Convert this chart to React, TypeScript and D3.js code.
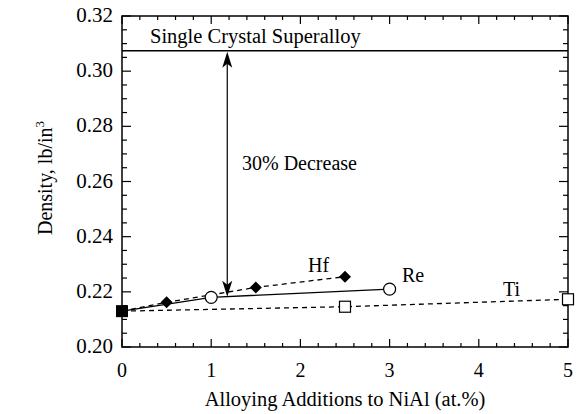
import React from "react";
import * as d3 from "d3";

const hfX = [0, 0.5, 1.5, 2.5];
const hfY = [0.213, 0.2162, 0.2216, 0.2255];
const reX = [0, 1, 3];
const reY = [0.213, 0.218, 0.221];
const tiX = [0, 2.5, 5];
const tiY = [0.213, 0.2146, 0.2173];
const baseX = [0];
const baseY = [0.213];
const superalloyY = 0.3074;
const arrowX = 1.18;
const arrowBottom = 0.2182;
const xTicks = [0, 1, 2, 3, 4, 5];
const yTicks = [0.2, 0.22, 0.24, 0.26, 0.28, 0.3, 0.32];

const W = 580, H = 414;
const L = 122, R = 568, T = 16, B = 347;
const FONT = "Liberation Serif";
const ts = { fontFamily: FONT };

export default function App() {
  const x = d3.scaleLinear().domain([0, 5]).range([L, R]);
  const y = d3.scaleLinear().domain([0.2, 0.32]).range([B, T]);
  const line = (xs: number[], ys: number[]) =>
    d3.line<number>().x((_, i) => x(xs[i])).y((_, i) => y(ys[i]))(xs.map((_, i) => i)) || "";

  const xMinor = d3.range(0, 5.0001, 0.2).map((v) => +v.toFixed(2));
  const yMinor = d3.range(0.2, 0.32001, 0.005).map((v) => +v.toFixed(3));
  const isMajorX = (v: number) => Math.abs(v - Math.round(v)) < 1e-6;
  const isMajorY = (v: number) => Math.abs(v * 50 - Math.round(v * 50)) < 1e-6;

  const ax = x(arrowX);
  const yTop = y(superalloyY) + 1;
  const yBot = y(arrowBottom);
  const ah = 16, aw = 5;

  return (
    <svg width={W} height={H} style={{ position: "absolute", left: 0, top: 0, background: "#fff", fontFamily: FONT }}>
      <style>{`text { font-family: 'Liberation Serif', serif; }`}</style>
      <rect x={0} y={0} width={W} height={H} fill="#fff" />
      {/* ticks */}
      <g stroke="#000" strokeWidth={1.2}>
        {xMinor.map((v, i) => {
          const len = isMajorX(v) ? 8 : 4;
          return (
            <g key={"xt" + i}>
              <line x1={x(v)} x2={x(v)} y1={B} y2={B - len} />
              <line x1={x(v)} x2={x(v)} y1={T} y2={T + len} />
            </g>
          );
        })}
        {yMinor.map((v, i) => {
          const len = isMajorY(v) ? 9 : 5;
          return (
            <g key={"yt" + i}>
              <line x1={L} x2={L + len} y1={y(v)} y2={y(v)} />
              <line x1={R} x2={R - len} y1={y(v)} y2={y(v)} />
            </g>
          );
        })}
      </g>
      <rect x={L} y={T} width={R - L} height={B - T} fill="none" stroke="#000" strokeWidth={1.5} />

      {/* tick labels */}
      {xTicks.map((v) => (
        <text key={"xl" + v} x={x(v)} y={377} textAnchor="middle" fontSize={20} style={ts}>{v}</text>
      ))}
      {yTicks.map((v) => (
        <text key={"yl" + v} x={113} y={y(v) + 6} textAnchor="end" fontSize={21} style={ts}>{v.toFixed(2)}</text>
      ))}

      {/* axis titles */}
      <text x={(L + R) / 2} y={406} textAnchor="middle" fontSize={20.5} style={ts}>Alloying Additions to NiAl (at.%)</text>
      <text transform="translate(52, 178) rotate(-90)" textAnchor="middle" fontSize={20} style={ts}>
        Density, lb/in<tspan dy={-8} fontSize={13}>3</tspan>
      </text>

      {/* superalloy line */}
      <line x1={L} x2={R} y1={y(superalloyY)} y2={y(superalloyY)} stroke="#000" strokeWidth={1.5} />
      <text x={150} y={43} fontSize={20.5} style={ts}>Single Crystal Superalloy</text>

      {/* arrow */}
      <line x1={ax} x2={ax} y1={yTop + 8} y2={yBot - 8} stroke="#000" strokeWidth={1.2} />
      <path d={`M${ax},${yTop} L${ax - aw},${yTop + ah} L${ax},${yTop + ah - 4} L${ax + aw},${yTop + ah} Z`} fill="#000" />
      <path d={`M${ax},${yBot} L${ax - aw},${yBot - ah} L${ax},${yBot - ah + 4} L${ax + aw},${yBot - ah} Z`} fill="#000" />
      <text x={242} y={170} fontSize={20} style={ts}>30% Decrease</text>

      {/* series lines */}
      <path d={line(tiX, tiY)} fill="none" stroke="#000" strokeWidth={1.3} strokeDasharray="5,4" />
      <path d={line(hfX, hfY)} fill="none" stroke="#000" strokeWidth={1.3} strokeDasharray="5,4" />
      <path d={line(reX, reY)} fill="none" stroke="#000" strokeWidth={1.4} />

      {/* markers */}
      {tiX.slice(1).map((v, i) => (
        <rect key={"ti" + i} x={x(v) - 5.5} y={y(tiY[i + 1]) - 5.5} width={11} height={11} fill="#fff" stroke="#000" strokeWidth={1.2} />
      ))}
      {reX.slice(1).map((v, i) => (
        <circle key={"re" + i} cx={x(v)} cy={y(reY[i + 1])} r={6} fill="#fff" stroke="#000" strokeWidth={1.2} />
      ))}
      {hfX.slice(1).map((v, i) => {
        const cx = x(v), cy = y(hfY[i + 1]);
        return <path key={"hf" + i} d={`M${cx},${cy - 6} L${cx + 6},${cy} L${cx},${cy + 6} L${cx - 6},${cy} Z`} fill="#000" />;
      })}
      {baseX.map((v, i) => (
        <rect key={"b" + i} x={x(v) - 6} y={y(baseY[i]) - 6} width={12} height={12} fill="#000" />
      ))}

      {/* series labels */}
      <text x={308} y={272} fontSize={20} style={ts}>Hf</text>
      <text x={402} y={282} fontSize={20} style={ts}>Re</text>
      <text x={503} y={296} fontSize={20} style={ts}>Ti</text>
    </svg>
  );
}
